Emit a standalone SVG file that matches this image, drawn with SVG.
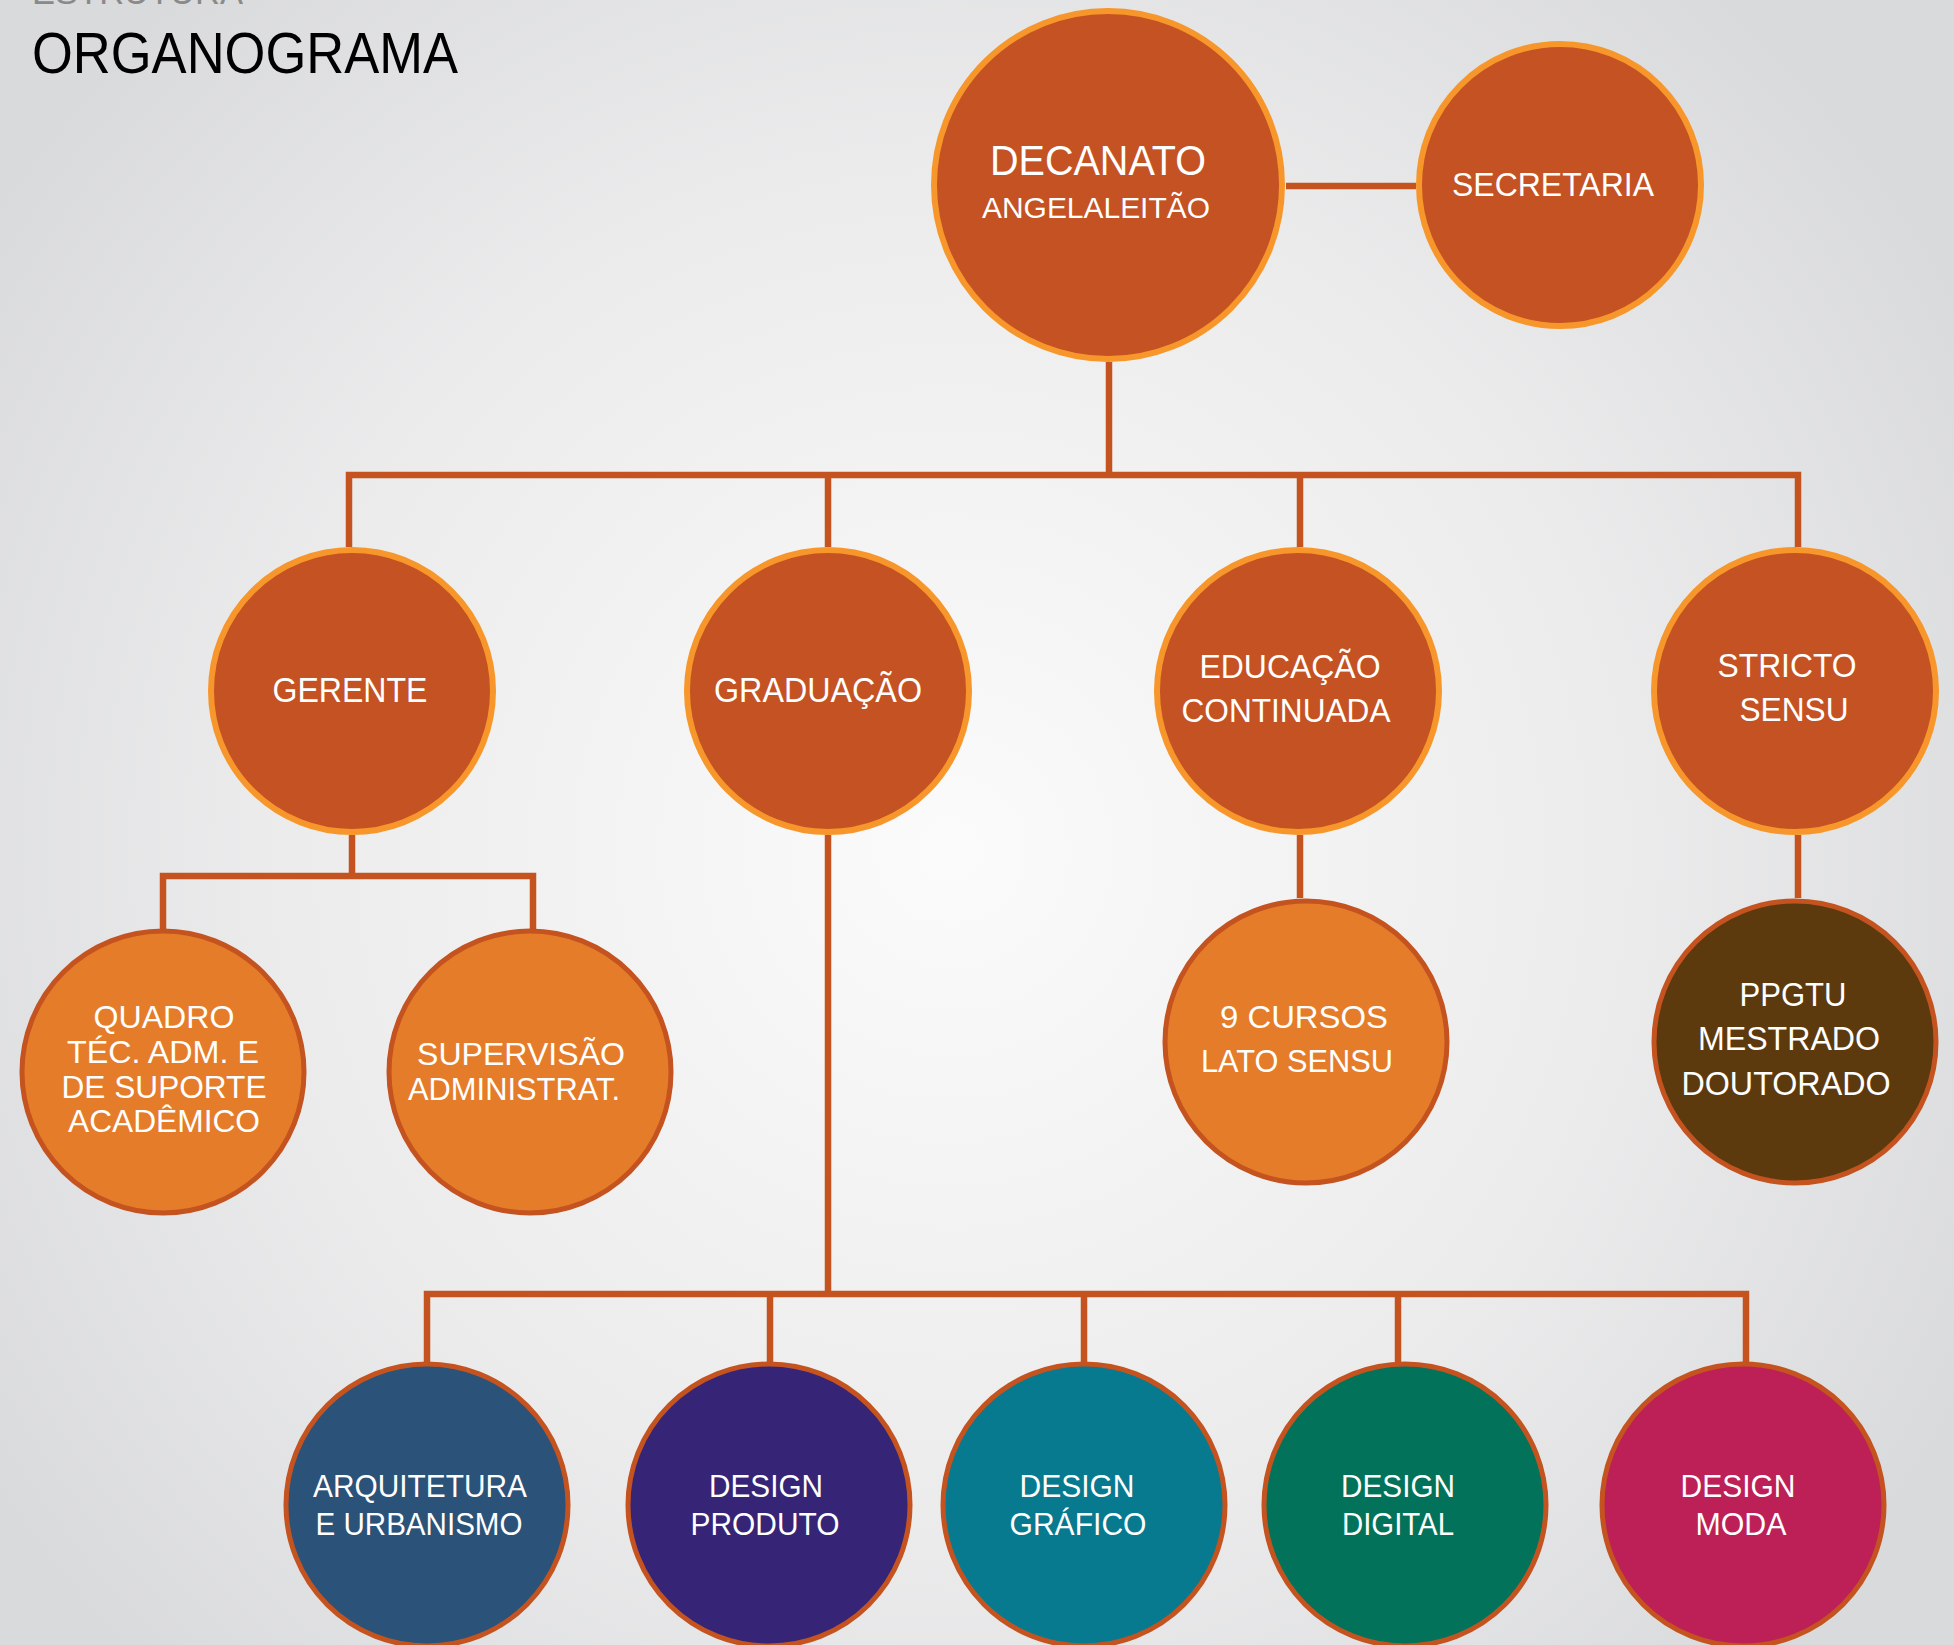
<svg xmlns="http://www.w3.org/2000/svg" width="1954" height="1645" viewBox="0 0 1954 1645">
<defs>
<radialGradient id="bg" cx="950" cy="850" r="1150" gradientUnits="userSpaceOnUse">
<stop offset="0" stop-color="#fbfbfb"/>
<stop offset="0.6" stop-color="#ebebec"/>
<stop offset="1" stop-color="#d9dadc"/>
</radialGradient>
<style>
.ln{fill:none;stroke:#C4531F;stroke-width:6.5;stroke-linejoin:miter;stroke-linecap:butt}
.top{fill:#C45222;stroke:#F7962A;stroke-width:6}
.mid{fill:#E57C29;stroke:#C4531F;stroke-width:5}
.low{stroke:#C4531F;stroke-width:5}
.t{fill:#ffffff;font-family:"Liberation Sans",Arial,sans-serif;text-anchor:middle;lengthAdjust:spacingAndGlyphs}
</style>
</defs>
<rect width="1954" height="1645" fill="url(#bg)"/>
<text x="32" y="4" font-family="Liberation Sans, Arial, sans-serif" font-size="35" fill="#8a8a8a" textLength="211" lengthAdjust="spacingAndGlyphs">ESTRUTURA</text>
<text x="32" y="73" font-family="Liberation Sans, Arial, sans-serif" font-size="57" fill="#000000" textLength="426" lengthAdjust="spacingAndGlyphs">ORGANOGRAMA</text>

<g id="connectors">
<path class="ln" d="M1286 186 H1416"/>
<path class="ln" d="M1109 362 V475"/>
<path class="ln" d="M349 547 V475 H1798 V547"/>
<path class="ln" d="M828 475 V547 M1300 475 V547"/>
<path class="ln" d="M352 835 V876"/>
<path class="ln" d="M163 929 V876 H533 V929"/>
<path class="ln" d="M1300 835 V898"/>
<path class="ln" d="M1798 835 V898"/>
<path class="ln" d="M828 835 V1294"/>
<path class="ln" d="M427 1362 V1294 H1746 V1362"/>
<path class="ln" d="M770 1294 V1362 M1084 1294 V1362 M1398 1294 V1362"/>
</g>

<g id="decanato">
<circle class="top" cx="1108" cy="185" r="174" stroke-width="7"/>
<text class="t" x="1098" y="175" font-size="42" textLength="216" lengthAdjust="spacingAndGlyphs">DECANATO</text>
<text class="t" x="1096" y="218" font-size="30" textLength="228" lengthAdjust="spacingAndGlyphs">ANGELALEITÃO</text>
</g>
<g id="secretaria">
<circle class="top" cx="1560" cy="185" r="141"/>
<text class="t" x="1553" y="196" font-size="33" textLength="202" lengthAdjust="spacingAndGlyphs">SECRETARIA</text>
</g>
<g id="gerente">
<circle class="top" cx="352" cy="691" r="141"/>
<text class="t" x="350" y="702" font-size="35" textLength="155" lengthAdjust="spacingAndGlyphs">GERENTE</text>
</g>
<g id="graduacao">
<circle class="top" cx="828" cy="691" r="141"/>
<text class="t" x="818" y="702" font-size="35" textLength="208" lengthAdjust="spacingAndGlyphs">GRADUAÇÃO</text>
</g>
<g id="educacao">
<circle class="top" cx="1298" cy="691" r="141"/>
<text class="t" x="1290" y="678" font-size="33" textLength="181" lengthAdjust="spacingAndGlyphs">EDUCAÇÃO</text>
<text class="t" x="1286" y="722" font-size="33" textLength="209" lengthAdjust="spacingAndGlyphs">CONTINUADA</text>
</g>
<g id="stricto">
<circle class="top" cx="1795" cy="691" r="141"/>
<text class="t" x="1787" y="677" font-size="33" textLength="139" lengthAdjust="spacingAndGlyphs">STRICTO</text>
<text class="t" x="1794" y="721" font-size="33" textLength="109" lengthAdjust="spacingAndGlyphs">SENSU</text>
</g>
<g id="quadro">
<circle class="mid" cx="163" cy="1072" r="141"/>
<text class="t" x="164" y="1028" font-size="32" textLength="141" lengthAdjust="spacingAndGlyphs">QUADRO</text>
<text class="t" x="163" y="1063" font-size="32" textLength="192" lengthAdjust="spacingAndGlyphs">TÉC. ADM. E</text>
<text class="t" x="164" y="1098" font-size="32" textLength="205" lengthAdjust="spacingAndGlyphs">DE SUPORTE</text>
<text class="t" x="164" y="1132" font-size="32" textLength="192" lengthAdjust="spacingAndGlyphs">ACADÊMICO</text>
</g>
<g id="supervisao">
<circle class="mid" cx="530" cy="1072" r="141"/>
<text class="t" x="521" y="1065" font-size="32" textLength="208" lengthAdjust="spacingAndGlyphs">SUPERVISÃO</text>
<text class="t" x="514" y="1100" font-size="32" textLength="212" lengthAdjust="spacingAndGlyphs">ADMINISTRAT.</text>
</g>
<g id="lato">
<circle class="mid" cx="1306" cy="1042" r="141"/>
<text class="t" x="1304" y="1028" font-size="32" textLength="168" lengthAdjust="spacingAndGlyphs">9 CURSOS</text>
<text class="t" x="1297" y="1072" font-size="32" textLength="192" lengthAdjust="spacingAndGlyphs">LATO SENSU</text>
</g>
<g id="ppgtu">
<circle class="mid" cx="1795" cy="1042" r="141" fill="#5C3A0E" style="fill:#5C3A0E"/>
<text class="t" x="1793" y="1006" font-size="33" textLength="107" lengthAdjust="spacingAndGlyphs">PPGTU</text>
<text class="t" x="1789" y="1050" font-size="33" textLength="182" lengthAdjust="spacingAndGlyphs">MESTRADO</text>
<text class="t" x="1786" y="1095" font-size="33" textLength="209" lengthAdjust="spacingAndGlyphs">DOUTORADO</text>
</g>
<g id="arquitetura">
<circle class="low" cx="427" cy="1505" r="141" fill="#2B5279"/>
<text class="t" x="420" y="1497" font-size="32" textLength="214" lengthAdjust="spacingAndGlyphs">ARQUITETURA</text>
<text class="t" x="419" y="1535" font-size="32" textLength="207" lengthAdjust="spacingAndGlyphs">E URBANISMO</text>
</g>
<g id="design-produto">
<circle class="low" cx="769" cy="1505" r="141" fill="#362476"/>
<text class="t" x="766" y="1497" font-size="32" textLength="114" lengthAdjust="spacingAndGlyphs">DESIGN</text>
<text class="t" x="765" y="1535" font-size="32" textLength="149" lengthAdjust="spacingAndGlyphs">PRODUTO</text>
</g>
<g id="design-grafico">
<circle class="low" cx="1084" cy="1505" r="141" fill="#077A8F"/>
<text class="t" x="1077" y="1497" font-size="32" textLength="115" lengthAdjust="spacingAndGlyphs">DESIGN</text>
<text class="t" x="1078" y="1535" font-size="32" textLength="137" lengthAdjust="spacingAndGlyphs">GRÁFICO</text>
</g>
<g id="design-digital">
<circle class="low" cx="1405" cy="1505" r="141" fill="#02735A"/>
<text class="t" x="1398" y="1497" font-size="32" textLength="114" lengthAdjust="spacingAndGlyphs">DESIGN</text>
<text class="t" x="1398" y="1535" font-size="32" textLength="112" lengthAdjust="spacingAndGlyphs">DIGITAL</text>
</g>
<g id="design-moda">
<circle class="low" cx="1743" cy="1505" r="141" fill="#BD1F57"/>
<text class="t" x="1738" y="1497" font-size="32" textLength="115" lengthAdjust="spacingAndGlyphs">DESIGN</text>
<text class="t" x="1741" y="1535" font-size="32" textLength="91" lengthAdjust="spacingAndGlyphs">MODA</text>
</g>
</svg>
